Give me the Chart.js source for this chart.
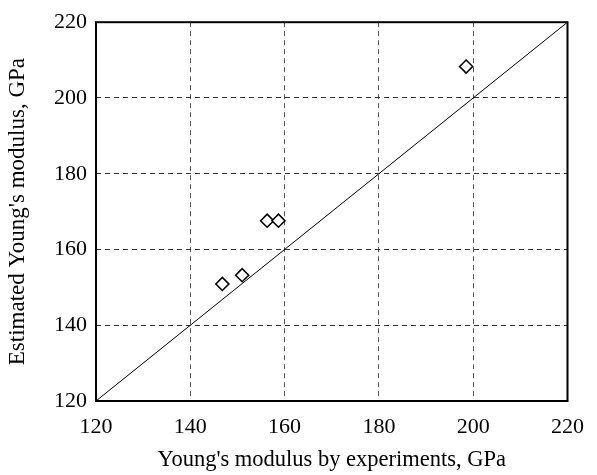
<!DOCTYPE html>
<html>
<head>
<meta charset="utf-8">
<script src="https://cdn.jsdelivr.net/npm/chart.js@4/dist/chart.umd.min.js"></script>
<style>
  html, body { margin:0; padding:0; background:#fff; }
  #wrap { width:597px; height:475px; }
</style>
</head>
<body>
<div id="wrap"><canvas id="c" width="597" height="475"></canvas></div>
<script>
// measured vs estimated modulus (GPa)
const expModulus = [146.8, 151.0, 156.3, 158.7, 198.5];
const estModulus = [150.9, 153.2, 167.6, 167.6, 208.3];
// 1:1 reference line
const refX = [120, 220];
const refY = [120, 220];
const axisMin = 120, axisMax = 220, axisStep = 20;

const serif = "'Liberation Serif', 'Times New Roman', serif";

// box around the plot area (chart.js only draws left/bottom borders)
const frame = {
  id: 'frame',
  afterDatasetsDraw(chart) {
    const a = chart.chartArea, ctx = chart.ctx;
    ctx.save();
    ctx.strokeStyle = '#000';
    ctx.lineWidth = 2;
    ctx.strokeRect(a.left, a.top, a.right - a.left, a.bottom - a.top);
    ctx.restore();
  }
};

new Chart(document.getElementById('c'), {
  type: 'scatter',
  data: {
    datasets: [
      {
        type: 'line',
        data: refX.map((x, i) => ({ x: x, y: refY[i] })),
        borderColor: '#000',
        borderWidth: 1,
        pointRadius: 0,
        fill: false
      },
      {
        data: expModulus.map((x, i) => ({ x: x, y: estModulus[i] })),
        pointStyle: 'rectRot',
        pointRadius: 6.5,
        pointBorderWidth: 1.6,
        borderColor: '#000',
        backgroundColor: '#fff'
      }
    ]
  },
  options: {
    responsive: false,
    animation: false,
    layout: { padding: { left: 0, top: 13, right: 29, bottom: 0 } },
    plugins: { legend: { display: false }, tooltip: { enabled: false } },
    scales: {
      x: {
        type: 'linear', min: axisMin, max: axisMax,
        afterFit(s) { s.height = 74; },
        ticks: { stepSize: axisStep, color: '#000', padding: 13, font: { family: serif, size: 22 } },
        grid: { color: '#555', lineWidth: 1, drawTicks: false },
        border: { display: false, dash: [5, 4] },
        title: { display: true, text: "Young's modulus by experiments, GPa", color: '#000',
                 font: { family: serif, size: 22.5 }, padding: { top: 4, bottom: 1 } }
      },
      y: {
        type: 'linear', min: axisMin, max: axisMax,
        afterFit(s) { s.width = 96; },
        ticks: { stepSize: axisStep, color: '#000', padding: 9, font: { family: serif, size: 22 } },
        grid: { color: '#333', lineWidth: 1, drawTicks: false },
        border: { display: false, dash: [5, 4] },
        title: { display: true, text: "Estimated Young's modulus, GPa", color: '#000',
                 font: { family: serif, size: 23 }, padding: { top: 4, bottom: 4 } }
      }
    }
  },
  plugins: [frame]
});
</script>
</body>
</html>
